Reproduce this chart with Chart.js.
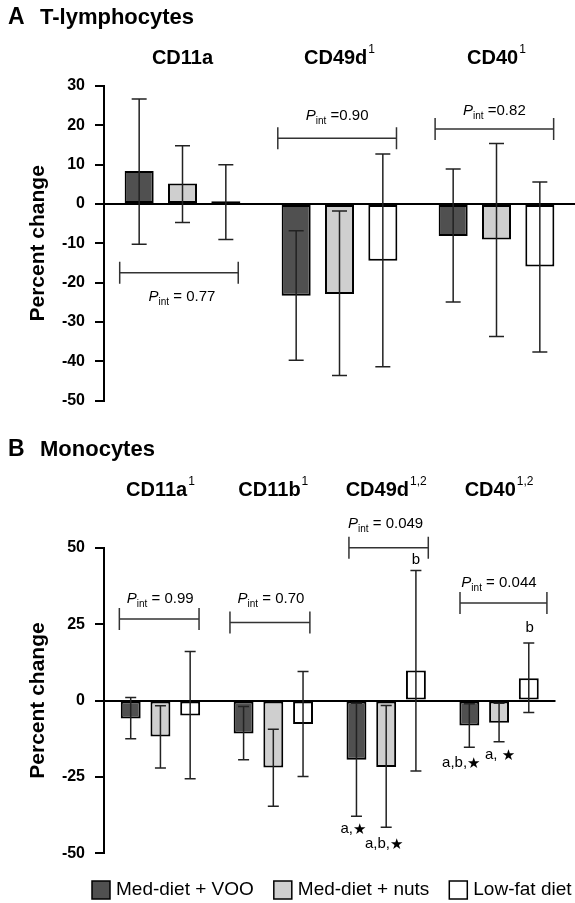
<!DOCTYPE html>
<html>
<head>
<meta charset="utf-8">
<script src="https://cdn.jsdelivr.net/npm/chart.js@4/dist/chart.umd.min.js"></script>
<style>
  html, body { margin: 0; padding: 0; background: #fff; }
  #wrap { position: relative; width: 575px; height: 903px; }
  #chartA { position: absolute; left: 0; top: 0; }
  #chartB { position: absolute; left: 0; top: 430px; }
</style>
</head>
<body>
<div id="wrap">
  <canvas id="chartA" width="575" height="430"></canvas>
  <canvas id="chartB" width="575" height="473"></canvas>
</div>
<script>
const FONT = "'Liberation Sans', Arial, Helvetica, sans-serif";

const groups = ['Med-diet + VOO', 'Med-diet + nuts', 'Low-fat diet'];
const groupColors = ['#505050', '#cfcfcf', '#ffffff'];

// A: T-lymphocytes
const tCats = ['CD11a', 'CD49d', 'CD40'];
const tSup = ['', '1', '1'];
const tVoo = [8.4, -23.3, -8.1];
const tVooLow = [-10.2, -39.7, -24.9];
const tVooHigh = [26.7, -6.8, 8.9];
const tNuts = [5.2, -22.9, -9.0];
const tNutsLow = [-4.7, -43.6, -33.7];
const tNutsHigh = [14.8, -1.8, 15.4];
const tLowFat = [0.7, -14.4, -15.9];
const tLowFatLow = [-9.0, -41.4, -37.6];
const tLowFatHigh = [10.0, 12.7, 5.6];
const tPint = [' = 0.77', ' =0.90', ' =0.82'];

// B: Monocytes
const mCats = ['CD11a', 'CD11b', 'CD49d', 'CD40'];
const mSup = ['1', '1', '1,2', '1,2'];
const mVoo = [-5.9, -10.8, -19.4, -8.2];
const mVooLow = [-12.5, -19.4, -37.9, -15.3];
const mVooHigh = [1.0, -2.0, -0.9, -1.1];
const mNuts = [-11.8, -21.9, -21.8, -7.3];
const mNutsLow = [-22.1, -34.6, -41.5, -13.5];
const mNutsHigh = [-1.7, -9.4, -1.6, -0.9];
const mLowFat = [-4.9, -7.7, 9.8, 7.3];
const mLowFatLow = [-25.6, -24.9, -23.1, -3.9];
const mLowFatHigh = [16.0, 9.5, 42.5, 18.8];
const mPint = [' = 0.99', ' = 0.70', ' = 0.049', ' = 0.044'];

// bracket placement (category units / y value)
const tBrackets = [
  { from: -0.40, to: 0.355, y: -17.5, textDy: 23.5, textDx: 3 },
  { from: -0.393, to: 0.363, y: 16.7, textDy: -23, textDx: 0 },
  { from: -0.391, to: 0.364, y: 19.1, textDy: -19, textDx: 0 }
];
const mBrackets = [
  { from: -0.364, to: 0.342, y: 26.7, textDy: -21, textDx: 1 },
  { from: -0.384, to: 0.324, y: 25.5, textDy: -24.5, textDx: 1 },
  { from: -0.33, to: 0.373, y: 50.0, textDy: -24.4, textDx: -3 },
  { from: -0.346, to: 0.424, y: 31.9, textDy: -20.6, textDx: -4.5 }
];
const mMarks = [
  { cat: 2, ds: 2, text: 'b', pos: 'above', dy: 11, dx: 0 },
  { cat: 3, ds: 2, text: 'b', pos: 'above', dy: 15, dx: 1 },
  { cat: 2, ds: 0, text: 'a,', star: true, pos: 'below', dy: 13, dx: -3 },
  { cat: 2, ds: 1, text: 'a,b,', star: true, pos: 'below', dy: 17, dx: -2 },
  { cat: 3, ds: 0, text: 'a,b,', star: true, pos: 'below', dy: 16, dx: -8 },
  { cat: 3, ds: 1, text: 'a, ', star: true, pos: 'below', dy: 13, dx: 1 }
];

function drawPint(ctx, rest, cx, cy) {
  ctx.font = 'italic 15px ' + FONT;
  const wP = ctx.measureText('P').width;
  ctx.font = '10px ' + FONT;
  const wI = ctx.measureText('int').width;
  ctx.font = '15px ' + FONT;
  const wR = ctx.measureText(rest).width;
  let x = cx - (wP + wI + wR) / 2;
  ctx.textAlign = 'left';
  ctx.textBaseline = 'alphabetic';
  const base = cy + 5;
  ctx.font = 'italic 15px ' + FONT;
  ctx.fillText('P', x, base);
  x += wP;
  ctx.font = '10px ' + FONT;
  ctx.fillText('int', x, base + 4);
  x += wI;
  ctx.font = '15px ' + FONT;
  ctx.fillText(rest, x, base);
}

const deco = {
  id: 'deco',
  afterDatasetsDraw(chart, args, o) {
    const ctx = chart.ctx;
    const xs = chart.scales.x, ys = chart.scales.y;
    ctx.save();
    ctx.fillStyle = '#000';

    // error bars
    chart.data.datasets.forEach((ds, i) => {
      chart.getDatasetMeta(i).data.forEach((bar, j) => {
        const yl = ys.getPixelForValue(ds.errLow[j]);
        const yh = ys.getPixelForValue(ds.errHigh[j]);
        ctx.strokeStyle = '#222';
        ctx.lineWidth = 1.5;
        ctx.beginPath();
        ctx.moveTo(bar.x, yl); ctx.lineTo(bar.x, yh);
        ctx.moveTo(bar.x - o.cap / 2, yl); ctx.lineTo(bar.x + o.cap / 2, yl);
        ctx.moveTo(bar.x - o.cap / 2, yh); ctx.lineTo(bar.x + o.cap / 2, yh);
        ctx.stroke();
      });
    });

    // panel header
    ctx.textBaseline = 'middle';
    ctx.textAlign = 'left';
    ctx.font = 'bold 23px ' + FONT;
    ctx.fillText(o.letter, 8, o.headY);
    ctx.font = 'bold 22px ' + FONT;
    ctx.fillText(o.name, 40, o.headY);

    // column titles with superscripts
    chart.data.labels.forEach((lab, k) => {
      const cx = xs.getPixelForValue(k);
      ctx.font = 'bold 20px ' + FONT;
      const w1 = ctx.measureText(lab).width;
      ctx.font = '12px ' + FONT;
      const sup = o.sups[k];
      const w2 = sup ? ctx.measureText(sup).width + 1 : 0;
      let x = cx - (w1 + w2) / 2;
      ctx.font = 'bold 20px ' + FONT;
      ctx.fillText(lab, x, o.titleY);
      if (sup) {
        ctx.font = '12px ' + FONT;
        ctx.fillText(sup, x + w1 + 1, o.titleY - 8);
      }
    });

    // P_int brackets
    o.brackets.forEach((b, k) => {
      const x0 = xs.getPixelForValue(k + b.from);
      const x1 = xs.getPixelForValue(k + b.to);
      const y = ys.getPixelForValue(b.y);
      ctx.strokeStyle = '#333';
      ctx.lineWidth = 1.5;
      ctx.beginPath();
      ctx.moveTo(x0, y); ctx.lineTo(x1, y);
      ctx.moveTo(x0, y - 11); ctx.lineTo(x0, y + 11);
      ctx.moveTo(x1, y - 11); ctx.lineTo(x1, y + 11);
      ctx.stroke();
      drawPint(ctx, o.pints[k], (x0 + x1) / 2 + b.textDx, y + b.textDy);
    });

    // significance letters
    (o.marks || []).forEach(m => {
      const bar = chart.getDatasetMeta(m.ds).data[m.cat];
      const ds = chart.data.datasets[m.ds];
      const yv = m.pos === 'above' ? ds.errHigh[m.cat] : ds.errLow[m.cat];
      const y = ys.getPixelForValue(yv) + (m.pos === 'above' ? -m.dy : m.dy);
      ctx.font = '15px ' + FONT;
      const wt = ctx.measureText(m.text).width;
      ctx.font = 'bold 15px DejaVu Sans';
      const ws = m.star ? ctx.measureText('\u2605').width : 0;
      let x = bar.x + m.dx - (wt + ws) / 2;
      ctx.textBaseline = 'middle';
      ctx.font = '15px ' + FONT;
      ctx.fillText(m.text, x, y);
      if (m.star) {
        ctx.font = 'bold 15px DejaVu Sans';
        ctx.fillText('\u2605', x + wt, y + 1);
      }
    });

    // legend
    if (o.legend) {
      const ly = o.legend.y;
      let x = o.legend.x;
      ctx.font = '19px ' + FONT;
      ctx.textBaseline = 'middle';
      chart.data.datasets.forEach(ds => {
        ctx.fillStyle = ds.backgroundColor;
        ctx.fillRect(x, ly - 9, 18, 18);
        ctx.strokeStyle = '#000';
        ctx.lineWidth = 1.5;
        ctx.strokeRect(x, ly - 9, 18, 18);
        ctx.fillStyle = '#000';
        ctx.fillText(ds.label, x + 24, ly);
        x += 24 + ctx.measureText(ds.label).width + 20;
      });
    }
    ctx.restore();
  }
};

function series(data, low, high, i) {
  return {
    label: groups[i],
    data: data,
    errLow: low,
    errHigh: high,
    backgroundColor: groupColors[i],
    borderColor: '#000',
    borderWidth: 2,
    borderSkipped: false
  };
}

function makeChart(id, cats, datasets, cfg) {
  return new Chart(document.getElementById(id), {
    type: 'bar',
    data: { labels: cats, datasets: datasets },
    options: {
      responsive: false,
      animation: false,
      devicePixelRatio: 1,
      categoryPercentage: cfg.catPct,
      barPercentage: 0.67,
      layout: { padding: cfg.padding },
      scales: {
        x: { display: false },
        y: {
          min: cfg.min,
          max: cfg.max,
          ticks: {
            stepSize: cfg.step,
            color: '#000',
            padding: 10,
            font: { family: FONT, size: 16, weight: 'bold' }
          },
          grid: {
            color: c => (c.tick && c.tick.value === 0 ? '#000' : 'rgba(0,0,0,0)'),
            lineWidth: 2,
            tickColor: '#000',
            tickWidth: 2,
            tickLength: 9
          },
          border: { color: '#000', width: 2 },
          title: {
            display: true,
            text: 'Percent change',
            color: '#000',
            font: { family: FONT, size: 21, weight: 'bold' },
            padding: { top: 26, bottom: 0 }
          },
          afterFit: s => { s.width = 104; }
        }
      },
      plugins: {
        legend: { display: false },
        tooltip: { enabled: false },
        deco: cfg.deco
      }
    },
    plugins: [deco]
  });
}

makeChart('chartA', tCats, [
  series(tVoo, tVooLow, tVooHigh, 0),
  series(tNuts, tNutsLow, tNutsHigh, 1),
  series(tLowFat, tLowFatLow, tLowFatHigh, 2)
], {
  min: -50, max: 30, step: 10, catPct: 0.828,
  padding: { top: 86, bottom: 29.3, left: 0, right: 0 },
  deco: {
    cap: 15, letter: 'A', name: 'T-lymphocytes', headY: 18,
    titleY: 58, sups: tSup, pints: tPint, brackets: tBrackets
  }
});

makeChart('chartB', mCats, [
  series(mVoo, mVooLow, mVooHigh, 0),
  series(mNuts, mNutsLow, mNutsHigh, 1),
  series(mLowFat, mLowFatLow, mLowFatHigh, 2)
], {
  min: -50, max: 50, step: 25, catPct: 0.79,
  padding: { top: 117.7, bottom: 49.7, left: 0, right: 19.5 },
  deco: {
    cap: 11, letter: 'B', name: 'Monocytes', headY: 20,
    titleY: 60, sups: mSup, pints: mPint, brackets: mBrackets, marks: mMarks,
    legend: { x: 92, y: 460 }
  }
});
</script>
</body>
</html>
